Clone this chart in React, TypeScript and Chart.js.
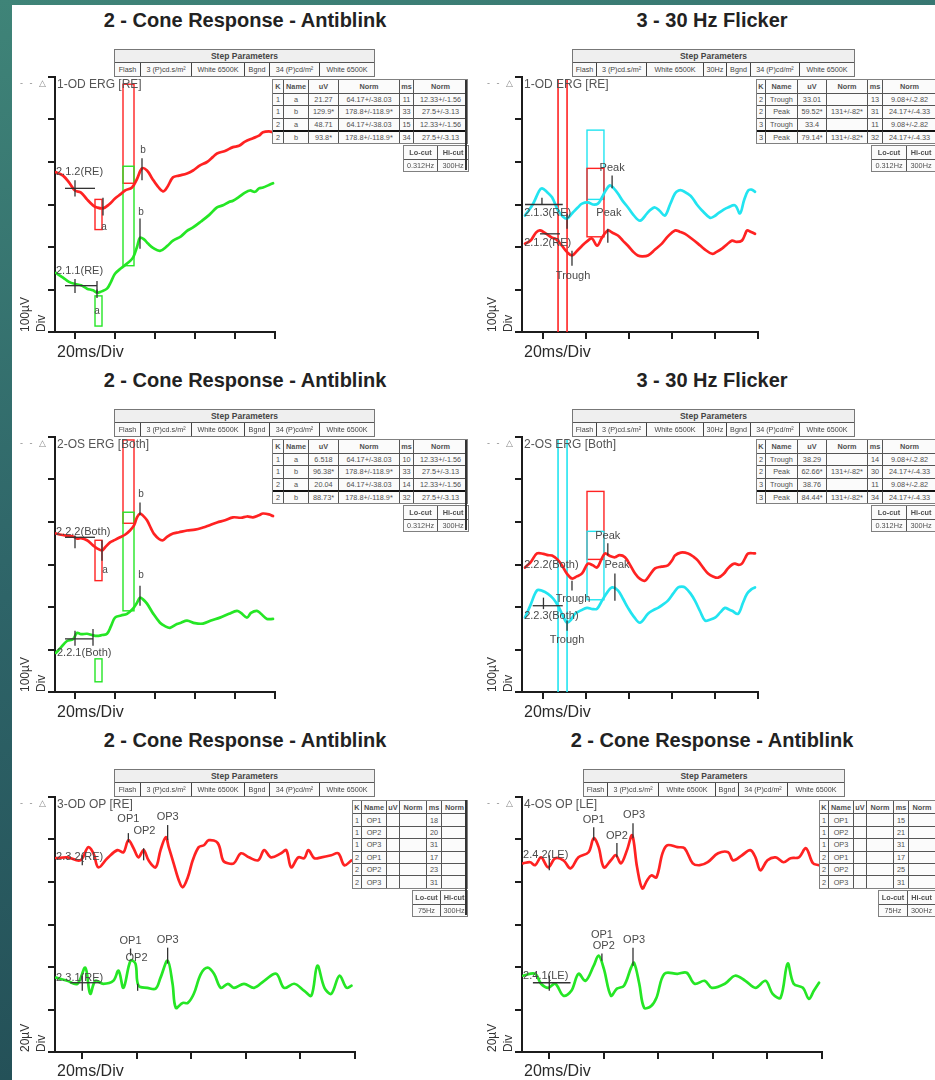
import React, { useEffect, useRef } from "react";
import { Chart, registerables } from "chart.js";

Chart.register(...registerables);

type Pt = [number, number];

// ---------- axis ticks ----------
const X_TICKS_MS = [0, 20, 40, 60, 80, 100];
const Y_TICKS_ERG = [0, 100, 200, 300, 400, 500, 600];
const Y_TICKS_OP = [0, 20, 40, 60, 80, 100, 120];

// ---------- traces: [ms, µV] ----------
const TL_RED: Pt[] = [[-9.5,376],[-6,368],[-3,352],[0,333],[3,328],[6,312],[9,298],[11,293],[14,291],[17,300],[20,314],[23,325],[25,333],[28.5,340],[31,360],[33.5,385],[36,380],[38.5,362],[41,345],[44,331],[46,340],[49,364],[52,368],[56,373],[59,380],[62.5,392],[66,400],[69,412],[71,420],[75,426],[79,435],[82,438],[85,448],[89,456],[92,462],[94,470],[97,472],[99,470]];
const TL_GREEN: Pt[] = [[-9.5,139],[-6,128],[-3,118],[0,113],[3,110],[6,102],[9,98],[11,92],[13,95],[16,102],[18,118],[20,137],[23,150],[26,161],[29,175],[31,200],[32.5,222],[34.5,218],[36.5,208],[39,198],[42.5,191],[46,202],[49,215],[53,225],[56,238],[59,246],[63,260],[67,275],[71,293],[74,298],[77,306],[79,309],[82,318],[85,328],[87.5,333],[90,330],[92,338],[94,340],[97,346],[99,350]];
const TR_CYAN: Pt[] = [[-8.6,274],[-5,300],[-2,332],[-0.7,338],[1.5,330],[4,317],[6.8,286],[9,272],[11,267],[13.5,280],[16,293],[18,302],[20.7,305],[23,300],[25.4,302],[27.3,317],[29,333],[31,345],[32.8,338],[34.7,326],[37,308],[39.4,293],[42,275],[45,262],[48.3,279],[50,288],[52,293],[54,286],[56.6,274],[59,300],[61.3,326],[63,333],[64.6,333],[67,326],[69.2,317],[71.5,300],[73.9,286],[77.6,269],[79.5,272],[81.4,279],[84,288],[86,293],[89.3,298],[91.6,279],[93.5,310],[95.4,333],[97,335],[98.6,330]];
const TR_RED: Pt[] = [[-8.6,208],[-6,215],[-3.5,234],[-1.6,239],[1,232],[4,222],[6,218],[8.6,203],[11,188],[13.3,180],[15.5,190],[18,203],[20,212],[22.6,220],[25,203],[27.3,222],[30,239],[32,234],[34.7,227],[37,215],[39.4,203],[42,188],[44,180],[46,178],[48.7,180],[52,194],[55.2,208],[58,225],[61.3,239],[63.5,236],[66,231],[69,220],[72,208],[75,195],[78.6,184],[80.5,188],[83.2,196],[85.5,206],[87.9,215],[90,212],[92.5,215],[94,230],[94.9,239],[96.5,236],[98.6,231]];
const ML_RED: Pt[] = [[-9.5,373],[-7,370],[-4,368],[-1,366],[1,361],[3,362],[6,357],[9,345],[11,338],[13.5,333],[15,340],[17.5,352],[20,358],[22.5,364],[25,370],[27.5,380],[29.5,392],[31,411],[32.5,420],[34,415],[36,404],[38,385],[39.5,372],[42,360],[44,357],[46,365],[49,373],[52,376],[56,380],[60,382],[64,387],[67,392],[71,399],[75,404],[79,411],[83,410],[86,413],[89,411],[92,416],[94,420],[97,418],[99,414]];
const ML_GREEN: Pt[] = [[-9.5,92],[-7,105],[-4,120],[-1,124],[1,139],[3,136],[6,137],[8.5,134],[11,132],[13.5,134],[16,137],[18,155],[20,175],[23,180],[26,184],[29,196],[31,210],[32.5,222],[34,218],[36,208],[39,185],[42.5,163],[45,155],[47.5,151],[51,160],[53,163],[56,168],[60,162],[64,161],[68,168],[72.5,175],[77,184],[81,191],[83,186],[86,175],[88,186],[91,191],[93,184],[96,172],[99,172]];
const MR_RED: Pt[] = [[-8.6,293],[-6,305],[-3,326],[0,325],[2,322],[4,321],[6.5,312],[8.6,298],[11,278],[13.3,267],[15.5,272],[18,279],[20.7,302],[23,298],[25,293],[27,312],[28.7,326],[31,320],[33.3,317],[35.5,322],[38,317],[40.5,298],[42.7,279],[45,266],[47.3,262],[49.5,275],[52,291],[55,295],[58,298],[60,310],[61.3,321],[64,328],[67.4,326],[70,318],[72,309],[74.5,292],[76.7,279],[79,272],[81.4,269],[84,278],[86,291],[88,300],[89.3,302],[91,299],[92.5,302],[94,315],[95.4,326],[98.6,326]];
const MR_CYAN: Pt[] = [[-8.6,175],[-6,205],[-3,239],[-0.5,238],[2.1,231],[4.5,220],[6.8,203],[9,180],[11,163],[12.8,170],[14.7,184],[17.5,192],[20.3,198],[23,195],[25,196],[27.3,215],[29.8,235],[32,246],[34.7,239],[37,220],[39.4,198],[42,178],[45,163],[48.7,184],[51,192],[53.4,198],[55.5,205],[58,215],[60.5,232],[62.7,246],[64.5,248],[66,246],[68.5,232],[70.6,215],[73,190],[75.3,168],[77.5,170],[80,175],[82.5,188],[84.6,198],[86.5,194],[87.9,191],[90.7,184],[93,210],[94.9,231],[97,242],[98.6,246]];
const BL_RED: Pt[] = [[-9.6,91.2],[-5.5,91.6],[-0.7,90.2],[2.2,96.4],[4.1,93.5],[5.9,86.9],[9.2,91.2],[12.9,95],[15.1,94],[16.9,99.7],[18.8,95.9],[20.6,91.6],[22.5,95],[24.3,90.2],[26.9,86.9],[28.7,95],[30.6,101.1],[31.7,96.4],[33.5,88.8],[35.4,80.8],[36.8,77.5],[38.7,82.2],[40.5,90.2],[42.7,96.4],[44.6,97.3],[46.4,99.7],[49.7,98.3],[51.6,90.2],[53.4,88.8],[55.6,88.8],[58.2,93.5],[61.1,91.6],[64.5,90.2],[66.7,95],[69.2,91.6],[72.9,93.5],[74.8,95],[76.6,86.9],[79.2,91.6],[81.4,91.2],[82.9,95],[85.1,91.2],[87.7,91.6],[91.3,92.6],[93.9,93.5],[96.1,87.9],[98.7,90.2]];
const BL_GREEN: Pt[] = [[-9.6,35],[-5.5,33.5],[-1.8,32.1],[1.1,39.7],[2.9,27.4],[4.8,33.5],[7.7,32.1],[11.4,33.5],[13.3,38.3],[15.1,30.2],[17.7,43],[19.5,41.6],[20.6,31.2],[23.9,30.2],[26.9,29.8],[28.7,35],[31.3,43],[33.1,32.1],[34.3,20.8],[36.8,23.1],[38.7,23.1],[40.9,27.4],[43.5,36.8],[46,39.7],[48.3,36.8],[50.8,30.2],[53.4,32.1],[55.6,30.2],[59.3,32.1],[63,30.2],[66.7,33.5],[71.1,36.8],[74,30.2],[77.7,32.1],[81.4,28.8],[84,26.5],[86.2,40.6],[88.8,30.2],[91.3,27.4],[94.3,35.9],[96.9,30.2],[98.7,31.2]];
const BR_RED: Pt[] = [[-9.6,88.8],[-7,89.3],[-5.2,87.9],[-3,91.6],[-0.4,86.9],[2.2,91.2],[5.2,90.2],[7.8,86.4],[10.7,91.6],[14.4,94],[16.3,100.6],[18.1,96.4],[20,86.9],[22.6,90.2],[24.4,92.6],[26.3,88.8],[28.5,95],[30.4,102],[32.2,86.9],[34.1,77],[35.9,80.8],[37.4,83.1],[39.3,82.2],[41.5,93.5],[43.3,97.3],[47,96.4],[49.6,95.9],[52.6,88.8],[55.2,87.9],[58.1,89.3],[61.9,93.5],[65.6,94],[67.4,90.2],[70.7,92.6],[73.7,95],[75.6,91.6],[77.4,85.5],[80,90.2],[83,91.6],[85.9,89.3],[88.5,91.2],[91.5,91.6],[94.1,95.9],[96.7,88.8],[98.9,87.9]];
const BR_GREEN: Pt[] = [[-9.6,35.9],[-5.2,36.8],[-3,32.1],[-0.4,30.2],[2.2,32.1],[5.2,26.5],[8.1,28.8],[10.7,36.8],[13.3,33.5],[16.3,40.6],[18.1,45.4],[20,39.2],[22.6,26.5],[24.8,29.8],[27.4,31.2],[30,39.7],[31.1,42],[33,32.1],[34.8,20.8],[37.4,21.7],[39.3,25.5],[42.2,36.8],[47,36.8],[50.4,37.3],[53.3,32.1],[57,33.5],[59.6,30.2],[64.4,32.1],[68.1,35.9],[71.9,33.5],[75.6,30.2],[79.3,33.5],[81.9,27.4],[84.8,25.5],[87.4,41.6],[89.6,32.1],[93,30.2],[95.2,25],[97,28.8],[98.9,32.6]];

// ---------- annotations (data units) ----------
type Box = { s: string; x: [number, number]; y: [number, number] };
type Mark = { x: number; y: [number, number] };
type HLine = { x: [number, number]; y: number };
type Lbl = { x: number; y: number; t: string; left?: boolean };
type Band = { s: string; x: number; y: [number, number] };

const TL_BOXES: Box[] = [
  { s: "r", x: [24, 29.5], y: [350, 583] },
  { s: "g", x: [24, 29.5], y: [156, 390] },
  { s: "r", x: [10, 13.5], y: [241, 312] },
  { s: "g", x: [10, 13.5], y: [14, 85] },
];
const TL_MARKS: Mark[] = [
  { x: 14, y: [274, 316] }, { x: 33.5, y: [357, 409] }, { x: 32.5, y: [196, 267] },
  { x: 11, y: [80, 100] }, { x: 0, y: [319, 357] }, { x: 0, y: [92, 125] }, { x: 11, y: [92, 120] },
];
const TL_HLINES: HLine[] = [{ x: [-5, 10], y: 338 }, { x: [-5, 11], y: 109 }];
const TL_LABELS: Lbl[] = [
  { x: 14.5, y: 246, t: "a" }, { x: 34, y: 428, t: "b" }, { x: 33, y: 281, t: "b" }, { x: 11, y: 50, t: "a" },
  { x: -9.5, y: 376, t: "2.1.2(RE)", left: true }, { x: -9.5, y: 144, t: "2.1.1(RE)", left: true },
];

const TR_BANDS: Band[] = [{ s: "r", x: 6.8, y: [0, 593] }, { s: "r", x: 11, y: [0, 593] }];
const TR_BOXES: Box[] = [
  { s: "c", x: [20.3, 28.2], y: [312, 475] },
  { s: "r", x: [20.3, 28.2], y: [224, 385] },
];
const TR_MARKS: Mark[] = [
  { x: 32, y: [338, 368] }, { x: 30, y: [210, 243] }, { x: 13.3, y: [156, 191] },
  { x: 11, y: [243, 279] }, { x: -0.7, y: [300, 316] },
];
const TR_HLINES: HLine[] = [{ x: [-8.6, 9], y: 300 }, { x: [-1.6, 7.7], y: 231 }];
const TR_LABELS: Lbl[] = [
  { x: 32, y: 387, t: "Peak" }, { x: 30.5, y: 281, t: "Peak" }, { x: 13.8, y: 132, t: "Trough" },
  { x: -9, y: 281, t: "2.1.3(RE)", left: true }, { x: -9, y: 210, t: "2.1.2(RE)", left: true },
];

const ML_BOXES: Box[] = [
  { s: "r", x: [24, 29.5], y: [397, 593] },
  { s: "g", x: [24, 29.5], y: [191, 423] },
  { s: "r", x: [10, 13.5], y: [262, 357] },
  { s: "g", x: [10, 13.5], y: [24, 78] },
];
const ML_MARKS: Mark[] = [
  { x: 32.5, y: [416, 446] }, { x: 13.5, y: [309, 357] }, { x: 32.5, y: [203, 250] },
  { x: 0, y: [338, 368] }, { x: 0, y: [109, 144] }, { x: 9, y: [109, 148] },
];
const ML_HLINES: HLine[] = [{ x: [-5, 10], y: 364 }, { x: [-5, 9], y: 125 }];
const ML_LABELS: Lbl[] = [
  { x: 33, y: 465, t: "b" }, { x: 15, y: 286, t: "a" }, { x: 33, y: 274, t: "b" },
  { x: -9.5, y: 376, t: "2.2.2(Both)", left: true }, { x: -9, y: 92, t: "2.2.1(Both)", left: true },
];

const MR_BANDS: Band[] = [{ s: "c", x: 6.8, y: [0, 593] }, { s: "c", x: 11, y: [0, 593] }];
const MR_BOXES: Box[] = [
  { s: "r", x: [20.3, 28.2], y: [312, 472] },
  { s: "c", x: [20.3, 28.2], y: [217, 378] },
];
const MR_MARKS: Mark[] = [
  { x: 30, y: [321, 350] }, { x: 33.3, y: [215, 279] }, { x: 13.3, y: [239, 262] },
  { x: 11, y: [144, 168] }, { x: 0, y: [195, 222] },
];
const MR_HLINES: HLine[] = [{ x: [-5, 9], y: 203 }];
const MR_LABELS: Lbl[] = [
  { x: 30, y: 368, t: "Peak" }, { x: 34.3, y: 298, t: "Peak" }, { x: 13.8, y: 220, t: "Trough" },
  { x: 11, y: 123, t: "Trough" },
  { x: -9, y: 298, t: "2.2.2(Both)", left: true }, { x: -9, y: 180, t: "2.2.3(Both)", left: true },
];

const BL_MARKS: Mark[] = [
  { x: 16.9, y: [98.7, 103] }, { x: 22.5, y: [90.2, 95.9] }, { x: 31.3, y: [99.7, 106.8] },
  { x: 17.7, y: [45.4, 48.7] }, { x: 20.3, y: [28.8, 32.1] }, { x: 31.3, y: [41.6, 49.1] },
  { x: 0, y: [87.9, 92.6] }, { x: 0, y: [28.8, 35.9] },
];
const BL_HLINES: HLine[] = [{ x: [-4.4, 6.6], y: 32.6 }];
const BL_LABELS: Lbl[] = [
  { x: 16.9, y: 109.6, t: "OP1" }, { x: 22.8, y: 104, t: "OP2" }, { x: 31.3, y: 110.5, t: "OP3" },
  { x: 17.7, y: 52.4, t: "OP1" }, { x: 19.9, y: 44.4, t: "OP2" }, { x: 31.3, y: 52.9, t: "OP3" },
  { x: -9.6, y: 91.6, t: "2.3.2(RE)", left: true }, { x: -9.6, y: 35, t: "2.3.1(RE)", left: true },
];

const BR_MARKS: Mark[] = [
  { x: 16.3, y: [99.7, 105.8] }, { x: 24.8, y: [91.6, 98.3] }, { x: 30.7, y: [100.6, 107.7] },
  { x: 19.3, y: [43, 46.3] }, { x: 30.7, y: [40.6, 49.1] },
  { x: 0, y: [85.5, 92.6] }, { x: 0, y: [28.8, 35.9] },
];
const BR_HLINES: HLine[] = [{ x: [-6, 7.8], y: 32.6 }];
const BR_LABELS: Lbl[] = [
  { x: 16.3, y: 109.1, t: "OP1" }, { x: 24.8, y: 101.6, t: "OP2" }, { x: 31.1, y: 111.5, t: "OP3" },
  { x: 19.3, y: 55.3, t: "OP1" }, { x: 20, y: 50.1, t: "OP2" }, { x: 31.1, y: 52.9, t: "OP3" },
  { x: -9.6, y: 92.6, t: "2.4.2(LE)", left: true }, { x: -9.6, y: 35.9, t: "2.4.1(LE)", left: true },
];

// ---------- tables ----------
const STEP_TITLE = "Step Parameters";
const STEP_CONE = ["Flash", "3 (P)cd.s/m²", "White 6500K", "Bgnd", "34 (P)cd/m²", "White 6500K"];
const STEP_FLICKER = ["Flash", "3 (P)cd.s/m²", "White 6500K", "30Hz", "Bgnd", "34 (P)cd/m²", "White 6500K"];
const RESULT_HEADER = ["K", "Name", "uV", "Norm", "ms", "Norm"];
const TL_ROWS = [
  ["1", "a", "21.27", "64.17+/-38.03", "11", "12.33+/-1.56"],
  ["1", "b", "129.9*", "178.8+/-118.9*", "33", "27.5+/-3.13"],
  ["2", "a", "48.71", "64.17+/-38.03", "15", "12.33+/-1.56"],
  ["2", "b", "93.8*", "178.8+/-118.9*", "34", "27.5+/-3.13"],
];
const ML_ROWS = [
  ["1", "a", "6.518", "64.17+/-38.03", "10", "12.33+/-1.56"],
  ["1", "b", "96.38*", "178.8+/-118.9*", "33", "27.5+/-3.13"],
  ["2", "a", "20.04", "64.17+/-38.03", "14", "12.33+/-1.56"],
  ["2", "b", "88.73*", "178.8+/-118.9*", "32", "27.5+/-3.13"],
];
const TR_ROWS = [
  ["2", "Trough", "33.01", "", "13", "9.08+/-2.82"],
  ["2", "Peak", "59.52*", "131+/-82*", "31", "24.17+/-4.33"],
  ["3", "Trough", "33.4", "", "11", "9.08+/-2.82"],
  ["3", "Peak", "79.14*", "131+/-82*", "32", "24.17+/-4.33"],
];
const MR_ROWS = [
  ["2", "Trough", "38.29", "", "14", "9.08+/-2.82"],
  ["2", "Peak", "62.66*", "131+/-82*", "30", "24.17+/-4.33"],
  ["3", "Trough", "38.76", "", "11", "9.08+/-2.82"],
  ["3", "Peak", "84.44*", "131+/-82*", "34", "24.17+/-4.33"],
];
const BL_ROWS = [
  ["1", "OP1", "", "", "18", ""], ["1", "OP2", "", "", "20", ""], ["1", "OP3", "", "", "31", ""],
  ["2", "OP1", "", "", "17", ""], ["2", "OP2", "", "", "23", ""], ["2", "OP3", "", "", "31", ""],
];
const BR_ROWS = [
  ["1", "OP1", "", "", "15", ""], ["1", "OP2", "", "", "21", ""], ["1", "OP3", "", "", "31", ""],
  ["2", "OP1", "", "", "17", ""], ["2", "OP2", "", "", "25", ""], ["2", "OP3", "", "", "31", ""],
];
const FILTER_HEADER = ["Lo-cut", "Hi-cut"];
const FILTER_ERG = ["0.312Hz", "300Hz"];
const FILTER_OP = ["75Hz", "300Hz"];

// ---------- styles ----------
const FONT = '"Liberation Sans", Arial, Helvetica, sans-serif';
const COLORS: Record<string, string> = { r: "#ff2222", g: "#25e625", c: "#22e4f0" };
const AXIS = "#1c1c1c";
const LABEL = "#4a4a4a";

type PanelCfg = {
  L: number; T: number; R: number; B: number;
  yMax: number; yTicks: number[];
  traces: { pts: Pt[]; s: string }[];
  boxes: Box[]; bands: Band[]; marks: Mark[]; hlines: HLine[]; labels: Lbl[];
};

const PADT = 8, PADR = 8, AXW = 12;

function ErgChart({ cfg }: { cfg: PanelCfg }) {
  const ref = useRef<HTMLCanvasElement | null>(null);
  const w = cfg.R - cfg.L + AXW + PADR;
  const h = cfg.B - cfg.T + AXW + PADT;
  useEffect(() => {
    const canvas = ref.current;
    if (!canvas) return;
    const annot = {
      id: "ergAnnot",
      beforeDatasetsDraw(chart: any) {
        const { ctx } = chart;
        const xs = chart.scales.x, ys = chart.scales.y;
        ctx.save();
        ctx.lineWidth = 1.4;
        for (const b of cfg.boxes) {
          ctx.strokeStyle = COLORS[b.s];
          const x1 = xs.getPixelForValue(b.x[0]), x2 = xs.getPixelForValue(b.x[1]);
          const y1 = ys.getPixelForValue(b.y[1]), y2 = ys.getPixelForValue(b.y[0]);
          ctx.strokeRect(x1, y1, x2 - x1, y2 - y1);
        }
        ctx.lineWidth = 1.6;
        for (const b of cfg.bands) {
          ctx.strokeStyle = COLORS[b.s];
          const x = xs.getPixelForValue(b.x);
          ctx.beginPath();
          ctx.moveTo(x, ys.getPixelForValue(b.y[1]));
          ctx.lineTo(x, ys.getPixelForValue(b.y[0]));
          ctx.stroke();
        }
        ctx.restore();
      },
      afterDatasetsDraw(chart: any) {
        const { ctx } = chart;
        const xs = chart.scales.x, ys = chart.scales.y;
        ctx.save();
        ctx.strokeStyle = "#333";
        ctx.lineWidth = 1.3;
        for (const m of cfg.marks) {
          const x = xs.getPixelForValue(m.x);
          ctx.beginPath();
          ctx.moveTo(x, ys.getPixelForValue(m.y[0]));
          ctx.lineTo(x, ys.getPixelForValue(m.y[1]));
          ctx.stroke();
        }
        for (const l of cfg.hlines) {
          const y = ys.getPixelForValue(l.y);
          ctx.beginPath();
          ctx.moveTo(xs.getPixelForValue(l.x[0]), y);
          ctx.lineTo(xs.getPixelForValue(l.x[1]), y);
          ctx.stroke();
        }
        ctx.fillStyle = LABEL;
        ctx.textBaseline = "middle";
        for (const t of cfg.labels) {
          ctx.font = `${t.t.length <= 1 ? 10 : 11}px ${FONT}`;
          ctx.textAlign = t.left ? "left" : "center";
          ctx.fillText(t.t, xs.getPixelForValue(t.x), ys.getPixelForValue(t.y));
        }
        ctx.restore();
      },
    };
    const chart = new Chart(canvas, {
      type: "line",
      data: {
        datasets: cfg.traces.map((tr) => ({
          data: tr.pts.map(([x, y]) => ({ x, y })),
          borderColor: COLORS[tr.s],
          borderWidth: 2.7,
          pointRadius: 0,
          tension: 0.35,
          fill: false,
          borderCapStyle: "round",
          borderJoinStyle: "round",
        })),
      },
      options: {
        responsive: false,
        animation: false,
        events: [],
        layout: { padding: { top: PADT, right: PADR, left: 0, bottom: 0 } },
        plugins: { legend: { display: false }, tooltip: { enabled: false }, title: { display: false } },
        scales: {
          x: {
            type: "linear",
            min: -10,
            max: 100,
            afterBuildTicks: (s: any) => { s.ticks = X_TICKS_MS.map((v) => ({ value: v })); },
            afterFit: (s: any) => { s.height = AXW; },
            ticks: { display: false },
            grid: { drawOnChartArea: false, drawTicks: true, tickLength: 7, color: AXIS, lineWidth: 2 },
            border: { display: true, color: AXIS, width: 2 },
          },
          y: {
            type: "linear",
            min: 0,
            max: cfg.yMax,
            afterBuildTicks: (s: any) => { s.ticks = cfg.yTicks.map((v) => ({ value: v })); },
            afterFit: (s: any) => { s.width = AXW; },
            ticks: { display: false },
            grid: { drawOnChartArea: false, drawTicks: true, tickLength: 7, color: AXIS, lineWidth: 2 },
            border: { display: true, color: AXIS, width: 2 },
          },
        },
      } as any,
      plugins: [annot],
    });
    return () => chart.destroy();
  }, [cfg]);
  return (
    <canvas
      ref={ref}
      width={w}
      height={h}
      style={{ position: "absolute", left: cfg.L - AXW, top: cfg.T - PADT, width: w, height: h }}
    />
  );
}

function Grid({ x, y, widths, rowH, rows, boldFirst, thickBefore, fontSize = 7.3 }: any) {
  const total = widths.reduce((a: number, b: number) => a + b, 0);
  return (
    <div
      style={{
        position: "absolute", left: x, top: y, width: total, height: rows.length * rowH,
        border: "1.5px solid #808080", background: "#f6f6f6", boxSizing: "content-box",
        fontFamily: FONT, fontSize, color: "#505050",
      }}
    >
      {rows.map((row: string[], ri: number) => {
        let cx = 0;
        return row.map((cell: string, ci: number) => {
          const cw = widths[ci];
          const el = (
            <div
              key={ri + "-" + ci}
              style={{
                position: "absolute", left: cx, top: ri * rowH, width: cw, height: rowH,
                boxSizing: "border-box",
                borderRight: ci < row.length - 1 ? "1px solid #555" : "none",
                borderTop: ri > 0 ? (thickBefore === ri ? "2px solid #111" : "1px solid #555") : "none",
                display: "flex", alignItems: "center", justifyContent: "center",
                whiteSpace: "nowrap", overflow: "hidden",
                fontWeight: boldFirst && ri === 0 ? 700 : 400,
                background: "#fbfbfb",
              }}
            >
              {cell}
            </div>
          );
          cx += cw;
          return el;
        });
      })}
    </div>
  );
}

function StepTable({ x, y, widths, cells }: any) {
  const total = widths.reduce((a: number, b: number) => a + b, 0);
  let cx = 0;
  return (
    <div
      style={{
        position: "absolute", left: x, top: y, width: total, height: 26,
        border: "1.5px solid #777", background: "#efefef", fontFamily: FONT, color: "#444",
      }}
    >
      <div
        style={{
          position: "absolute", left: 0, top: 0, width: total, height: 13, display: "flex",
          alignItems: "center", justifyContent: "center", fontSize: 8.5, fontWeight: 700,
          borderBottom: "1px solid #555", boxSizing: "border-box",
        }}
      >
        {STEP_TITLE}
      </div>
      {cells.map((c: string, i: number) => {
        const el = (
          <div
            key={i}
            style={{
              position: "absolute", left: cx, top: 13, width: widths[i], height: 13,
              boxSizing: "border-box", borderRight: i < cells.length - 1 ? "1px solid #444" : "none",
              display: "flex", alignItems: "center", justifyContent: "center",
              fontSize: 7.2, whiteSpace: "nowrap", overflow: "hidden", background: "#fafafa",
            }}
          >
            {c}
          </div>
        );
        cx += widths[i];
        return el;
      })}
    </div>
  );
}

type PanelSpec = {
  cfg: PanelCfg;
  title: string; titleCX: number; titleTop: number;
  chanLabel: string; yUnit: string; yLabelX: number; xLabelX: number; xLabelTop: number;
  step: { x: number; y: number; widths: number[]; cells: string[] };
  result: { x: number; y: number; widths: number[]; rowH: number; rows: string[][]; thick?: number };
  filter: { x: number; y: number; widths: number[]; rowH: number; vals: string[] };
  edgeBar?: { y: number; h: number };
};

function Panel({ p }: { p: PanelSpec }) {
  const c = p.cfg;
  return (
    <>
      <div
        style={{
          position: "absolute", left: p.titleCX - 200, width: 400, top: p.titleTop, textAlign: "center",
          fontFamily: FONT, fontWeight: 700, fontSize: 20, lineHeight: "20px", color: "#222",
        }}
      >
        {p.title}
      </div>
      <StepTable {...p.step} />
      {p.edgeBar && (
        <div
          style={{
            position: "absolute", left: 465, top: p.edgeBar.y, width: 2, height: p.edgeBar.h, background: "#333",
          }}
        />
      )}
      <ErgChart cfg={c} />
      <div
        style={{
          position: "absolute", left: c.L + 2, top: c.T + 1, fontFamily: FONT, fontSize: 12,
          lineHeight: "12px", color: "#555", whiteSpace: "nowrap",
        }}
      >
        {p.chanLabel}
      </div>
      <div
        style={{
          position: "absolute", left: c.L - 35, top: c.T + 1, fontFamily: FONT, fontSize: 9,
          lineHeight: "10px", color: "#888", whiteSpace: "nowrap", letterSpacing: 2,
        }}
      >
        {"- - △"}
      </div>
      <div
        style={{
          position: "absolute", left: p.yLabelX, top: c.B, transformOrigin: "left top",
          transform: "rotate(-90deg)", fontFamily: FONT, fontSize: 12, lineHeight: "16px",
          color: "#333", whiteSpace: "pre",
        }}
      >
        {p.yUnit + "\nDiv"}
      </div>
      <div
        style={{
          position: "absolute", left: p.xLabelX, top: p.xLabelTop, fontFamily: FONT, fontSize: 16,
          lineHeight: "16px", color: "#2a2a2a", whiteSpace: "nowrap",
        }}
      >
        {"20ms/Div"}
      </div>
      <Grid
        x={p.result.x} y={p.result.y} widths={p.result.widths} rowH={p.result.rowH}
        rows={[RESULT_HEADER, ...p.result.rows]} boldFirst thickBefore={p.result.thick}
      />
      <Grid
        x={p.filter.x} y={p.filter.y} widths={p.filter.widths} rowH={p.filter.rowH}
        rows={[FILTER_HEADER, p.filter.vals]} boldFirst
      />
    </>
  );
}

const ERG_RES_W_L = [11, 25, 30, 61, 14, 53];
const ERG_RES_W_R = [9, 32, 29, 41, 15, 53];
const OP_RES_W_L = [9, 25, 13, 27, 15, 25];
const OP_RES_W_R = [9, 25, 13, 27, 15, 26];

const PANELS: PanelSpec[] = [
  {
    cfg: { L: 55, T: 77, R: 275, B: 332, yMax: 600, yTicks: Y_TICKS_ERG,
      traces: [{ pts: TL_RED, s: "r" }, { pts: TL_GREEN, s: "g" }],
      boxes: TL_BOXES, bands: [], marks: TL_MARKS, hlines: TL_HLINES, labels: TL_LABELS },
    title: "2 - Cone Response - Antiblink", titleCX: 245, titleTop: 10,
    chanLabel: "1-OD ERG [RE]", yUnit: "100µV", yLabelX: 17, xLabelX: 57, xLabelTop: 344,
    step: { x: 114, y: 49, widths: [26, 51, 53, 25, 50, 54], cells: STEP_CONE },
    result: { x: 272, y: 79, widths: ERG_RES_W_L, rowH: 12.6, rows: TL_ROWS, thick: 4 },
    filter: { x: 403, y: 145, widths: [34, 30], rowH: 12.5, vals: FILTER_ERG },
  },
  {
    cfg: { L: 522, T: 77, R: 758, B: 332, yMax: 600, yTicks: Y_TICKS_ERG,
      traces: [{ pts: TR_CYAN, s: "c" }, { pts: TR_RED, s: "r" }],
      boxes: TR_BOXES, bands: TR_BANDS, marks: TR_MARKS, hlines: TR_HLINES, labels: TR_LABELS },
    title: "3 - 30 Hz Flicker", titleCX: 712, titleTop: 10,
    chanLabel: "1-OD ERG [RE]", yUnit: "100µV", yLabelX: 484, xLabelX: 524, xLabelTop: 344,
    step: { x: 572, y: 49, widths: [24, 50, 57, 23, 24, 49, 54], cells: STEP_FLICKER },
    result: { x: 756, y: 79, widths: ERG_RES_W_R, rowH: 12.6, rows: TR_ROWS, thick: 4 },
    filter: { x: 871, y: 145, widths: [35, 28], rowH: 12.5, vals: FILTER_ERG },
    edgeBar: { y: 80, h: 90 },
  },
  {
    cfg: { L: 55, T: 437, R: 275, B: 692, yMax: 600, yTicks: Y_TICKS_ERG,
      traces: [{ pts: ML_RED, s: "r" }, { pts: ML_GREEN, s: "g" }],
      boxes: ML_BOXES, bands: [], marks: ML_MARKS, hlines: ML_HLINES, labels: ML_LABELS },
    title: "2 - Cone Response - Antiblink", titleCX: 245, titleTop: 370,
    chanLabel: "2-OS ERG [Both]", yUnit: "100µV", yLabelX: 17, xLabelX: 57, xLabelTop: 704,
    step: { x: 114, y: 409, widths: [26, 51, 53, 25, 50, 54], cells: STEP_CONE },
    result: { x: 272, y: 439, widths: ERG_RES_W_L, rowH: 12.6, rows: ML_ROWS, thick: 4 },
    filter: { x: 403, y: 505, widths: [34, 30], rowH: 12.5, vals: FILTER_ERG },
  },
  {
    cfg: { L: 522, T: 437, R: 758, B: 692, yMax: 600, yTicks: Y_TICKS_ERG,
      traces: [{ pts: MR_RED, s: "r" }, { pts: MR_CYAN, s: "c" }],
      boxes: MR_BOXES, bands: MR_BANDS, marks: MR_MARKS, hlines: MR_HLINES, labels: MR_LABELS },
    title: "3 - 30 Hz Flicker", titleCX: 712, titleTop: 370,
    chanLabel: "2-OS ERG [Both]", yUnit: "100µV", yLabelX: 484, xLabelX: 524, xLabelTop: 704,
    step: { x: 572, y: 409, widths: [24, 50, 57, 23, 24, 49, 54], cells: STEP_FLICKER },
    result: { x: 756, y: 439, widths: ERG_RES_W_R, rowH: 12.6, rows: MR_ROWS, thick: 4 },
    filter: { x: 871, y: 505, widths: [35, 28], rowH: 12.5, vals: FILTER_ERG },
    edgeBar: { y: 440, h: 90 },
  },
  {
    cfg: { L: 55, T: 797, R: 355, B: 1052, yMax: 120, yTicks: Y_TICKS_OP,
      traces: [{ pts: BL_RED, s: "r" }, { pts: BL_GREEN, s: "g" }],
      boxes: [], bands: [], marks: BL_MARKS, hlines: BL_HLINES, labels: BL_LABELS },
    title: "2 - Cone Response - Antiblink", titleCX: 245, titleTop: 730,
    chanLabel: "3-OD OP [RE]", yUnit: "20µV", yLabelX: 17, xLabelX: 57, xLabelTop: 1063,
    step: { x: 114, y: 769, widths: [26, 51, 53, 25, 50, 54], cells: STEP_CONE },
    result: { x: 352, y: 800, widths: OP_RES_W_L, rowH: 12.4, rows: BL_ROWS },
    filter: { x: 412, y: 890, widths: [28, 26], rowH: 12.5, vals: FILTER_OP },
  },
  {
    cfg: { L: 522, T: 797, R: 822, B: 1052, yMax: 120, yTicks: Y_TICKS_OP,
      traces: [{ pts: BR_RED, s: "r" }, { pts: BR_GREEN, s: "g" }],
      boxes: [], bands: [], marks: BR_MARKS, hlines: BR_HLINES, labels: BR_LABELS },
    title: "2 - Cone Response - Antiblink", titleCX: 712, titleTop: 730,
    chanLabel: "4-OS OP [LE]", yUnit: "20µV", yLabelX: 484, xLabelX: 524, xLabelTop: 1063,
    step: { x: 583, y: 769, widths: [24, 51, 57, 23, 49, 56], cells: STEP_CONE },
    result: { x: 819, y: 800, widths: OP_RES_W_R, rowH: 12.4, rows: BR_ROWS },
    filter: { x: 878, y: 890, widths: [29, 27], rowH: 12.5, vals: FILTER_OP },
    edgeBar: { y: 800, h: 115 },
  },
];

export default function App() {
  return (
    <div
      style={{
        position: "absolute", left: 0, top: 0, width: 935, height: 1080, overflow: "hidden",
        background: "linear-gradient(165deg, #3f8478 0%, #2e6468 45%, #1f4750 100%)",
      }}
    >
      <div style={{ position: "absolute", left: 12, top: 5, width: 923, height: 1075, background: "#ffffff" }} />
      {PANELS.map((p, i) => (
        <Panel key={i} p={p} />
      ))}
    </div>
  );
}
